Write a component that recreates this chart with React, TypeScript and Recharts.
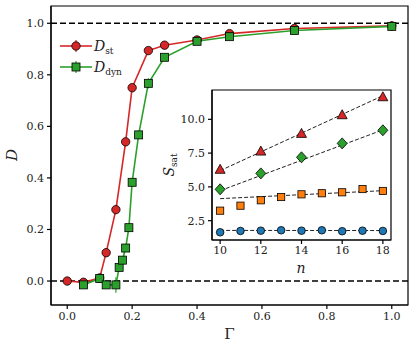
import {
  ComposedChart,
  Line,
  Scatter,
  XAxis,
  YAxis,
  ReferenceLine,
  ReferenceArea,
  ErrorBar,
  Label,
} from 'recharts';

const RED = '#d62728';
const GREEN = '#2ca02c';
const ORANGE = '#ff7f0e';
const BLUE = '#1f77b4';
const FONT = 'DejaVu Serif';

// main panel: D vs Gamma
const gammaSt = [0, 0.05, 0.1, 0.12, 0.15, 0.18, 0.2, 0.25, 0.3, 0.4, 0.5, 0.7, 1.0];
const dSt = [0, -0.005, 0.012, 0.11, 0.277, 0.54, 0.75, 0.894, 0.915, 0.935, 0.96, 0.98, 0.99];
const errSt = [0.004, 0.004, 0.006, 0.01, 0.01, 0.012, 0.012, 0.01, 0.008, 0.008, 0.008, 0.01, 0.018];

const gammaDyn = [0.05, 0.1, 0.12, 0.15, 0.16, 0.17, 0.18, 0.19, 0.2, 0.22, 0.25, 0.3, 0.4, 0.5, 0.7, 1.0];
const dDyn = [-0.015, 0.01, -0.015, -0.015, 0.053, 0.081, 0.128, 0.207, 0.383, 0.567, 0.767, 0.868, 0.93, 0.948, 0.972, 0.988];
const errDyn = [0.004, 0.006, 0.008, 0.03, 0.015, 0.012, 0.012, 0.012, 0.015, 0.015, 0.02, 0.01, 0.008, 0.008, 0.008, 0.01];

const gammaTicks = [0, 0.2, 0.4, 0.6, 0.8, 1.0];
const dTicks = [0, 0.2, 0.4, 0.6, 0.8, 1.0];

// inset: S_sat vs n
const nEven = [10, 12, 14, 16, 18];
const nAll = [10, 11, 12, 13, 14, 15, 16, 17, 18];
const sRed = [6.3, 7.65, 8.96, 10.34, 11.67];
const sGreen = [4.82, 6.0, 7.19, 8.22, 9.19];
const sOrange = [3.24, 3.61, 4.01, 4.25, 4.45, 4.53, 4.6, 4.84, 4.7];
const sBlue = [1.64, 1.74, 1.76, 1.79, 1.76, 1.79, 1.72, 1.76, 1.74];
const fitEnds = [10, 18];
const fitRed = [6.2, 11.75];
const fitGreen = [4.72, 9.22];
const fitOrange = [4.13, 4.72];
const fitBlue = [1.78, 1.77];
const nTicks = [10, 12, 14, 16, 18];
const sTicks = [2.5, 5.0, 7.5, 10.0];

const stData = gammaSt.map((g, i) => ({ g, d: dSt[i], e: errSt[i] }));
const dynData = gammaDyn.map((g, i) => ({ g, d: dDyn[i], e: errDyn[i] }));
const redPts = nEven.map((n, i) => ({ n, s: sRed[i] }));
const greenPts = nEven.map((n, i) => ({ n, s: sGreen[i] }));
const orangePts = nAll.map((n, i) => ({ n, s: sOrange[i] }));
const bluePts = nAll.map((n, i) => ({ n, s: sBlue[i] }));
const fit = (vals: number[]) => fitEnds.map((n, i) => ({ n, s: vals[i] }));

const tickStyle = { fontFamily: FONT, fontSize: 11, fill: '#222' };

const Circle = (props: any) => (
  <circle cx={props.cx} cy={props.cy} r={4.2} fill={props.fill} stroke="#000" strokeWidth={0.8} />
);
const Square = (props: any) => (
  <rect x={props.cx - 4} y={props.cy - 4} width={8} height={8} fill={props.fill} stroke="#000" strokeWidth={0.8} />
);
const Triangle = (props: any) => (
  <polygon
    points={`${props.cx},${props.cy - 5} ${props.cx - 5},${props.cy + 4} ${props.cx + 5},${props.cy + 4}`}
    fill={props.fill}
    stroke="#000"
    strokeWidth={0.8}
  />
);
const Diamond = (props: any) => (
  <polygon
    points={`${props.cx},${props.cy - 5.5} ${props.cx + 5},${props.cy} ${props.cx},${props.cy + 5.5} ${props.cx - 5},${props.cy}`}
    fill={props.fill}
    stroke="#000"
    strokeWidth={0.8}
  />
);
const SmallSquare = (props: any) => (
  <rect x={props.cx - 3.6} y={props.cy - 3.6} width={7.2} height={7.2} fill={props.fill} stroke="#000" strokeWidth={0.8} />
);
const SmallCircle = (props: any) => (
  <circle cx={props.cx} cy={props.cy} r={3.8} fill={props.fill} stroke="#000" strokeWidth={0.8} />
);

const LegendBox = () => (
  <svg width={100} height={45} style={{ display: 'block' }}>
    <line x1={0} y1={10} x2={32} y2={10} stroke={RED} strokeWidth={1.6} />
    <line x1={16} y1={4} x2={16} y2={16} stroke={RED} strokeWidth={1.2} />
    <circle cx={16} cy={10} r={4.2} fill={RED} stroke="#000" strokeWidth={0.8} />
    <text x={34} y={15} fontFamily={FONT} fontSize={14} fill="#222">
      <tspan fontStyle="italic">D</tspan>
      <tspan fontSize={9} dy={3}>st</tspan>
    </text>
    <line x1={0} y1={31} x2={32} y2={31} stroke={GREEN} strokeWidth={1.6} />
    <line x1={16} y1={25} x2={16} y2={37} stroke={GREEN} strokeWidth={1.2} />
    <rect x={12} y={27} width={8} height={8} fill={GREEN} stroke="#000" strokeWidth={0.8} />
    <text x={34} y={36} fontFamily={FONT} fontSize={14} fill="#222">
      <tspan fontStyle="italic">D</tspan>
      <tspan fontSize={9} dy={3}>dyn</tspan>
    </text>
  </svg>
);

const App = () => (
  <div style={{ position: 'absolute', left: 0, top: 0, width: 415, height: 351, background: '#fff' }}>
    <ComposedChart width={415} height={351} margin={{ top: 6, right: 7, bottom: 0, left: 0 }}>
      <XAxis
        type="number"
        dataKey="g"
        domain={[-0.05, 1.05]}
        ticks={gammaTicks}
        tickFormatter={(v: number) => v.toFixed(1)}
        allowDataOverflow
        height={46}
        tickSize={4}
        tickMargin={3}
        tick={tickStyle}
        stroke="#000"
        strokeWidth={1.2}
      >
        <Label
          content={() => (
            <text x={229.5} y={339} textAnchor="middle" fontFamily={FONT} fontSize={15} fill="#222">
              Γ
            </text>
          )}
        />
      </XAxis>
      <YAxis
        type="number"
        domain={[-0.093, 1.067]}
        ticks={dTicks}
        tickFormatter={(v: number) => v.toFixed(1)}
        allowDataOverflow
        width={51}
        tickSize={4}
        tickMargin={3}
        tick={tickStyle}
        stroke="#000"
        strokeWidth={1.2}
      >
        <Label
          content={() => (
            <text
              x={17}
              y={155}
              textAnchor="middle"
              transform="rotate(-90 17 155)"
              fontFamily={FONT}
              fontStyle="italic"
              fontSize={15}
              fill="#222"
            >
              D
            </text>
          )}
        />
      </YAxis>
      <ReferenceArea x1={-0.05} x2={1.05} y1={-0.093} y2={1.067} fill="none" stroke="#000" strokeWidth={1.2} ifOverflow="visible" />
      <ReferenceLine y={1} stroke="#000" strokeWidth={1.4} strokeDasharray="6 3" />
      <ReferenceLine y={0} stroke="#000" strokeWidth={1.4} strokeDasharray="6 3" />
      <Line
        data={stData}
        dataKey="d"
        type="linear"
        stroke={RED}
        strokeWidth={1.6}
        fill={RED}
        dot={<Circle fill={RED} />}
        isAnimationActive={false}
      >
        <ErrorBar dataKey="e" direction="y" stroke={RED} width={0} strokeWidth={1.2} />
      </Line>
      <Line
        data={dynData}
        dataKey="d"
        type="linear"
        stroke={GREEN}
        strokeWidth={1.6}
        fill={GREEN}
        dot={<Square fill={GREEN} />}
        isAnimationActive={false}
      >
        <ErrorBar dataKey="e" direction="y" stroke={GREEN} width={0} strokeWidth={1.2} />
      </Line>
    </ComposedChart>

    <div style={{ position: 'absolute', left: 60, top: 36 }}>
      <LegendBox />
    </div>

    <div style={{ position: 'absolute', left: 150, top: 80 }}>
      <ComposedChart width={250} height={200} margin={{ top: 10, right: 9, bottom: 0, left: 0 }}>
        <XAxis
          type="number"
          dataKey="n"
          domain={[9.6, 18.4]}
          ticks={nTicks}
          allowDataOverflow
          height={40}
          tickSize={4}
          tickMargin={2}
          tick={tickStyle}
          stroke="#000"
          strokeWidth={1.2}
        >
          <Label
            content={() => (
              <text x={151} y={193} textAnchor="middle" fontFamily={FONT} fontStyle="italic" fontSize={14} fill="#222">
                n
              </text>
            )}
          />
        </XAxis>
        <YAxis
          type="number"
          dataKey="s"
          domain={[1.07, 12.17]}
          ticks={sTicks}
          tickFormatter={(v: number) => v.toFixed(1)}
          allowDataOverflow
          width={62}
          tickSize={4}
          tickMargin={3}
          tick={tickStyle}
          stroke="#000"
          strokeWidth={1.2}
        >
          <Label
            content={() => (
              <text
                x={24}
                y={85}
                textAnchor="middle"
                transform="rotate(-90 24 85)"
                fontFamily={FONT}
                fontSize={14}
                fill="#222"
              >
                <tspan fontStyle="italic">S</tspan>
                <tspan fontSize={9} dy={3}>sat</tspan>
              </text>
            )}
          />
        </YAxis>
        <ReferenceArea x1={9.6} x2={18.4} y1={1.07} y2={12.17} fill="#fff" fillOpacity={1} stroke="#000" strokeWidth={1.2} ifOverflow="visible" />
        <Line data={fit(fitRed)} dataKey="s" stroke="#222" strokeWidth={1} strokeDasharray="4 2" dot={false} isAnimationActive={false} />
        <Line data={fit(fitGreen)} dataKey="s" stroke="#222" strokeWidth={1} strokeDasharray="4 2" dot={false} isAnimationActive={false} />
        <Line data={fit(fitOrange)} dataKey="s" stroke="#222" strokeWidth={1} strokeDasharray="4 2" dot={false} isAnimationActive={false} />
        <Line data={fit(fitBlue)} dataKey="s" stroke="#222" strokeWidth={1} strokeDasharray="4 2" dot={false} isAnimationActive={false} />
        <Scatter data={redPts} dataKey="s" fill={RED} shape={<Triangle />} isAnimationActive={false} />
        <Scatter data={greenPts} dataKey="s" fill={GREEN} shape={<Diamond />} isAnimationActive={false} />
        <Scatter data={orangePts} dataKey="s" fill={ORANGE} shape={<SmallSquare />} isAnimationActive={false} />
        <Scatter data={bluePts} dataKey="s" fill={BLUE} shape={<SmallCircle />} isAnimationActive={false} />
      </ComposedChart>
    </div>
  </div>
);

export default App;
